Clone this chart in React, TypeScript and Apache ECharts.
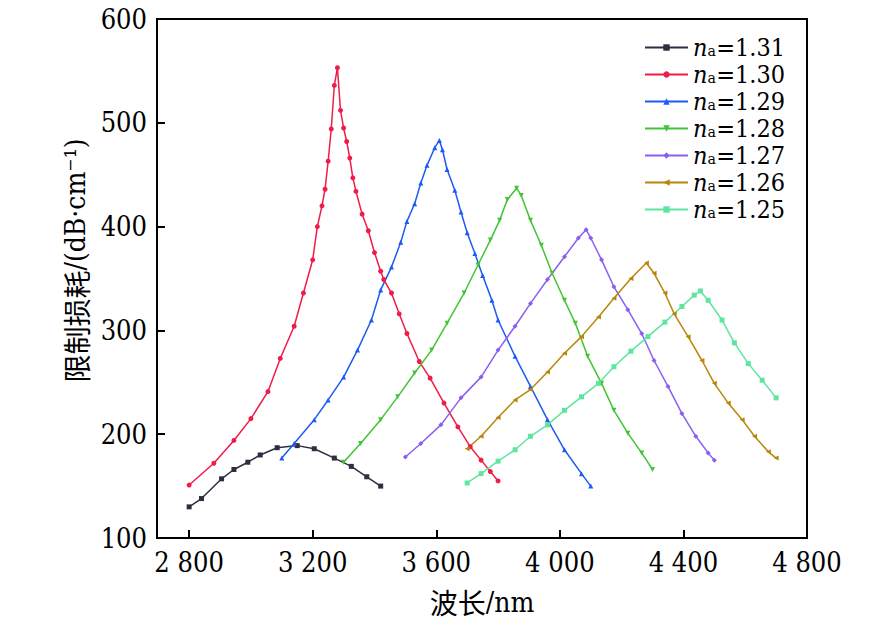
import React, { useEffect, useRef } from "react";
import * as echarts from "echarts";

const seriesNames = ["1.31", "1.30", "1.29", "1.28", "1.27", "1.26", "1.25"];
const seriesColors = ["#2e2e40", "#f01c48", "#1f5af5", "#42c435", "#8a5ff0", "#b8860b", "#5ee6a0"];
const seriesSymbols = ["rect", "circle", "triangle", "triangle", "diamond", "triangle", "rect"];
const seriesRotate = [0, 0, 0, 180, 0, 90, 0];

const na131: number[][] = [[2800,130],[2840,138],[2905,157],[2945,166],[2990,173],[3030,180],[3085,187],[3150,189],[3205,186],[3270,177],[3325,169],[3375,159],[3420,150]];
const na130: number[][] = [[2800,151],[2880,172],[2945,194],[3000,215],[3055,241],[3095,273],[3140,304],[3170,336],[3200,368],[3215,400],[3230,420],[3240,436],[3250,463],[3260,494],[3270,536],[3280,553],[3290,512],[3300,495],[3310,482],[3320,466],[3330,447],[3340,434],[3360,412],[3380,396],[3400,375],[3420,357],[3430,349],[3455,336],[3480,316],[3505,297],[3545,270],[3580,254],[3625,230],[3670,207],[3710,188],[3745,175],[3775,164],[3800,155]];
const na129: number[][] = [[3100,177],[3140,191],[3205,214],[3250,233],[3300,255],[3345,281],[3390,310],[3420,339],[3455,361],[3485,385],[3505,405],[3530,422],[3550,442],[3570,459],[3595,476],[3610,483],[3620,474],[3635,455],[3660,435],[3680,414],[3700,394],[3725,374],[3750,353],[3780,329],[3800,310],[3855,275],[3905,246],[3960,214],[4015,185],[4070,162],[4100,150]];
const na128: number[][] = [[3300,173],[3355,191],[3420,214],[3475,236],[3530,259],[3585,281],[3635,307],[3690,336],[3735,363],[3775,387],[3805,406],[3830,426],[3860,437],[3875,430],[3905,406],[3940,382],[3975,355],[4015,329],[4050,307],[4090,275],[4135,249],[4175,223],[4220,201],[4265,182],[4300,166]];
const na127: number[][] = [[3500,178],[3550,191],[3615,209],[3680,235],[3745,255],[3800,281],[3855,304],[3905,326],[3960,349],[4015,371],[4060,389],[4085,397],[4100,389],[4135,368],[4175,342],[4220,320],[4265,297],[4305,271],[4350,246],[4395,220],[4440,198],[4480,182],[4500,175]];
const na126: number[][] = [[3700,186],[3745,198],[3800,216],[3855,233],[3905,243],[3960,260],[4015,278],[4070,294],[4125,313],[4175,331],[4230,350],[4280,365],[4305,355],[4340,336],[4370,316],[4415,294],[4460,271],[4500,249],[4545,230],[4590,214],[4630,198],[4675,183],[4700,177]];
const na125: number[][] = [[3700,153],[3745,162],[3800,174],[3855,185],[3905,198],[3960,209],[4015,223],[4070,236],[4125,249],[4175,265],[4230,280],[4285,294],[4340,308],[4395,323],[4435,334],[4455,338],[4480,329],[4525,310],[4565,288],[4610,268],[4655,252],[4700,235]];

const allData = [na131, na130, na129, na128, na127, na126, na125];
const xTicks = [2800, 3200, 3600, 4000, 4400, 4800];

const SERIF = "DejaVu Serif Condensed, DejaVu Serif";
const CJK = "Noto Sans CJK SC";

export default function App() {
  const ref = useRef<HTMLDivElement>(null);
  useEffect(() => {
    if (!ref.current) return;
    const chart = echarts.init(ref.current, null, { renderer: "svg" });
    const series = seriesNames.map((n, i) => ({
      name: n,
      type: "line",
      data: allData[i],
      color: seriesColors[i],
      symbol: seriesSymbols[i],
      symbolRotate: seriesRotate[i],
      symbolSize: 5,
      showSymbol: true,
      lineStyle: { width: 1.5, color: seriesColors[i] },
      itemStyle: { color: seriesColors[i] },
    }));
    chart.setOption({
      animation: false,
      backgroundColor: "#ffffff",
      textStyle: { fontFamily: SERIF },
      grid: {
        left: 157, top: 19, right: 79, bottom: 89,
        show: true, borderColor: "#000", borderWidth: 2, backgroundColor: "transparent",
      },
      legend: {
        orient: "vertical",
        left: 639,
        top: 30,
        itemWidth: 43,
        itemHeight: 8,
        itemGap: 2,
        data: seriesNames,
        formatter: (name: string) => `{n|n}{v|ₐ=${name}}`,
        textStyle: {
          fontFamily: SERIF,
          color: "#000",
          rich: {
            n: { fontFamily: SERIF, fontStyle: "italic", fontSize: 25, lineHeight: 24, color: "#000" },
            v: { fontFamily: SERIF, fontSize: 25, lineHeight: 24, color: "#000" },
          },
        },
      },
      xAxis: {
        type: "value",
        min: 2696,
        max: 4800,
        name: "{c|波长}{t|/nm}",
        nameLocation: "middle",
        nameGap: 50,
        nameTextStyle: {
          fontFamily: SERIF, fontSize: 28, color: "#000",
          rich: {
            c: { fontFamily: CJK, fontSize: 28, color: "#000" },
            t: { fontFamily: SERIF, fontSize: 28, color: "#000" },
          },
        },
        splitLine: { show: false },
        axisLine: { show: true, lineStyle: { color: "#000", width: 2 } },
        axisTick: { show: true, inside: true, length: 8, lineStyle: { color: "#000", width: 2 }, customValues: xTicks },
        axisLabel: {
          customValues: xTicks,
          margin: 11,
          fontFamily: SERIF,
          fontSize: 27,
          color: "#000",
          formatter: (v: number) => {
            const s = String(Math.round(v));
            return s.length > 3 ? s.slice(0, s.length - 3) + " " + s.slice(-3) : s;
          },
        },
      },
      yAxis: {
        type: "value",
        min: 100,
        max: 600,
        interval: 100,
        name: "{c|限制损耗}{t|/(dB·cm⁻¹)}",
        nameLocation: "middle",
        nameRotate: 90,
        nameGap: 62,
        nameTextStyle: {
          fontFamily: SERIF,
          color: "#000",
          padding: [0, 0, 0, 36],
          rich: {
            c: { fontFamily: CJK, fontSize: 28, lineHeight: 32, color: "#000" },
            t: { fontFamily: SERIF, fontSize: 28, lineHeight: 32, color: "#000" },
          },
        },
        splitLine: { show: false },
        axisLine: { show: true, lineStyle: { color: "#000", width: 2 } },
        axisTick: { show: true, inside: true, length: 8, lineStyle: { color: "#000", width: 2 } },
        axisLabel: { margin: 10, fontFamily: SERIF, fontSize: 27, color: "#000" },
      },
      series,
    });
    return () => chart.dispose();
  }, []);
  return <div ref={ref} style={{ position: "fixed", left: 0, top: 0, width: 886, height: 627 }} />;
}
